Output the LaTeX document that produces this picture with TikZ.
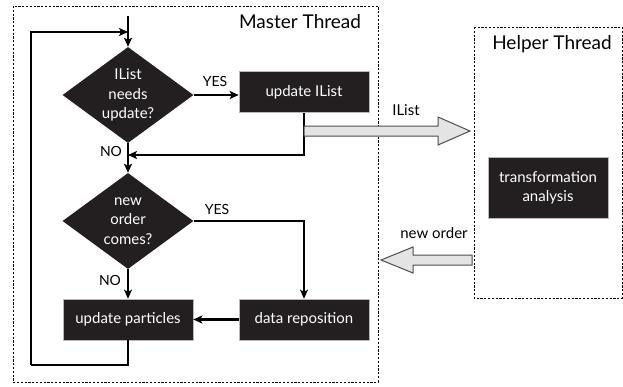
\documentclass[tikz,border=0pt]{standalone}
\usepackage{fontspec}
\setmainfont{Lato}
\usetikzlibrary{shapes.geometric,arrows.meta,calc}
\definecolor{boxfill}{HTML}{231F20}
\definecolor{blockfill}{HTML}{E4E4E4}
\definecolor{blockedge}{HTML}{4D4D4D}
\begin{document}
\begin{tikzpicture}[x=1pt,y=-1pt,
  frame/.style={draw=black, line width=0.8pt, dash pattern=on 2.2pt off 1.6pt},
  proc/.style={rectangle, fill=boxfill, draw=gray!55, line width=0.6pt, text=white,
    minimum width=130pt, minimum height=41pt, inner sep=0pt, align=center,
    font=\fontsize{15}{19}\selectfont},
  decision/.style={diamond, fill=boxfill, draw=none, minimum width=131pt,
    minimum height=96pt, inner sep=0pt},
  dtext/.style={text=white, align=center, font=\fontsize{15}{19.5}\selectfont, inner sep=0pt},
  title/.style={font=\fontsize{19}{22}\selectfont, inner sep=0pt},
  lbl/.style={font=\fontsize{14}{16}\selectfont, inner sep=0pt},
  flow/.style={draw=black, line width=2.6pt,
    -{Stealth[length=9pt,width=8pt,inset=2pt]}},
  line/.style={draw=black, line width=2.6pt},
  block/.style={fill=blockfill, draw=blockedge, line width=1pt, line join=miter}
]
\useasboundingbox (0,0) rectangle (623,386);
\fill[white] (0,0) rectangle (623,386);

% thread frames
\draw[frame] (13,6) rectangle (378,382);
\draw[frame] (474,27) rectangle (622,298);
\node[title] at (300,22) {Master Thread};
\node[title] at (552,44) {Helper Thread};

% master thread flow chart
\node[decision] (d1) at (128,95) {};
\node[dtext] at (d1.center) {IList\\needs\\update?};
\node[decision] (d2) at (128,221) {};
\node[dtext] at (d2.center) {new\\order\\comes?};
\node[proc] (upd) at (304,92) {update IList};
\node[proc] (drp) at (304,319.5) {data reposition};
\node[proc] (upp) at (128,319.5) {update particles};

% helper thread
\node[proc, minimum width=120pt, minimum height=61pt] (ta) at (548,187.5)
  {transformation\\analysis};

% connector end points
\coordinate (entry) at (128,16);
\coordinate (join1) at (128,32);
\coordinate (join2) at (128,155);
\coordinate (corner) at (31,365);

\draw[flow] (entry) -- (d1.north);
\draw[line] (upp.south) -- (upp.south |- corner) -- (corner);
\draw[flow] (corner) |- (join1);
\draw[flow] (d1.east) -- (d1.east -| upd.west);
\draw[flow] (upd.south) |- (join2);
\draw[flow] (d1.south) -- (d2.north);
\draw[flow] (d2.east) -| (drp.north);
\draw[flow] (d2.south) -- (upp.north);
\draw[flow] (drp.west) -- (upp.east);

\node[lbl] at (215,81) {YES};
\node[lbl] at (111,151) {NO};
\node[lbl] at (217,209) {YES};
\node[lbl] at (110,280) {NO};

% block arrows between the threads
\coordinate (ilTail) at (304,131);
\coordinate (ilTip) at (470,131);
\coordinate (noTail) at (472,260);
\coordinate (noTip) at (381,260);
\draw[block] ($(ilTail)+(0,-5)$) -- ($(ilTip)+(-32,-5)$) -- ($(ilTip)+(-32,-14)$)
  -- (ilTip) -- ($(ilTip)+(-32,14)$) -- ($(ilTip)+(-32,5)$) -- ($(ilTail)+(0,5)$) -- cycle;
\draw[block] ($(noTail)+(0,-5)$) -- ($(noTip)+(32,-5)$) -- ($(noTip)+(32,-13)$)
  -- (noTip) -- ($(noTip)+(32,13)$) -- ($(noTip)+(32,5)$) -- ($(noTail)+(0,5)$) -- cycle;
\node[font=\fontsize{15}{18}\selectfont, inner sep=0pt] at (406,110) {IList};
\node[font=\fontsize{15}{18}\selectfont, inner sep=0pt] at (434,233) {new order};
\end{tikzpicture}
\end{document}
